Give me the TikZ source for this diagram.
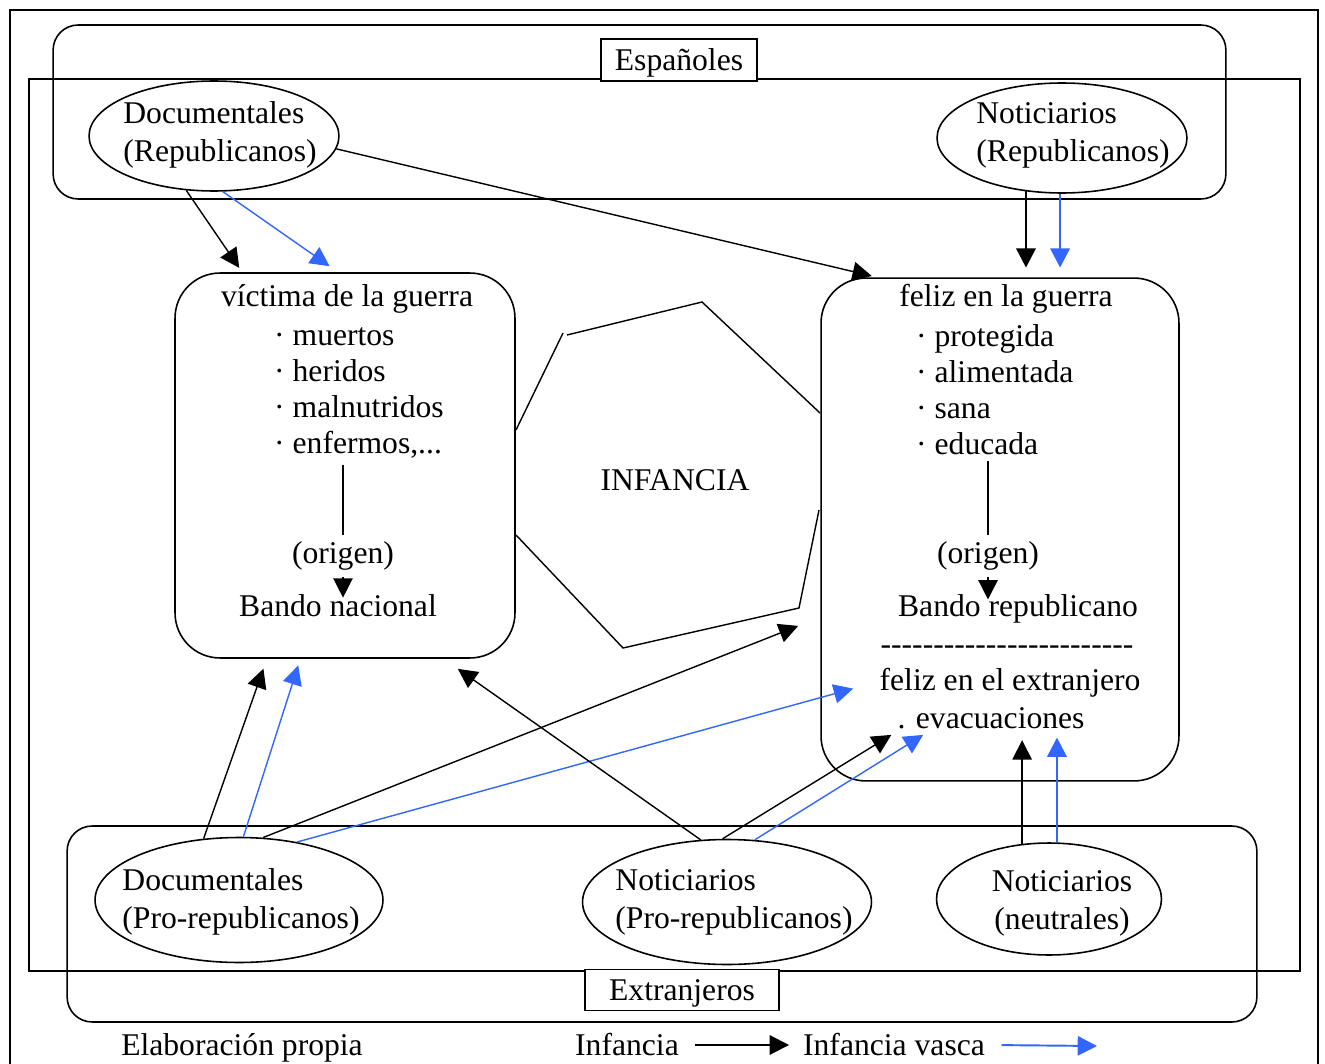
\documentclass[tikz,border=0pt]{standalone}
\usepackage{fontspec}
\setmainfont{Liberation Serif}
\usetikzlibrary{shapes.geometric,arrows.meta,calc}
\definecolor{vasca}{RGB}{51,102,255}
\newcommand\raya{\mbox{-}}
\tikzset{
  caja/.style={draw, line width=0.9pt, rounded corners=0.9cm},
  grupo/.style={draw, line width=0.9pt, rounded corners=0.5cm},
  medio/.style={draw, ellipse, line width=0.9pt, inner sep=0pt},
  rotulo/.style={draw, fill=white, line width=1pt, text depth=0pt},
  flecha/.style={-{Triangle[length=11pt,width=11pt]}, line width=0.8pt},
  gruesa/.style={flecha, line width=1.6pt},
  azul/.style={color=vasca},
  lista/.style={align=left, font=\fontsize{18}{20.5}\selectfont},
}
\begin{document}
\begin{tikzpicture}[x=0.02cm, y=-0.02cm, font=\fontsize{18}{21.6}\selectfont]
\useasboundingbox (0,0) rectangle (1325,1064);
% marcos
\draw[line width=1.1pt] (10,1064) |- (1318,10) -- (1318,1064);
\node[grupo, minimum width=23.46cm, minimum height=3.48cm] (espanoles) at (639.5,112) {};
\node[grupo, minimum width=23.8cm, minimum height=3.92cm] (extranjeros) at (662,924) {};
\draw[line width=1.1pt] (29,79) rectangle (1300,971);
\node[rotulo, minimum width=3.12cm, minimum height=0.84cm] (esplab) at (679,60) {Españoles};
\node[rotulo, minimum width=3.88cm, minimum height=0.82cm] (extlab) at (682,990) {Extranjeros};

% medios
\node[medio, minimum width=5cm, minimum height=2.2cm] (docrep) at (214,136) {};
\node[align=left] (docreptxt) at (220,135) {Documentales\\(Republicanos)};
\node[medio, minimum width=5cm, minimum height=2.2cm] (notrep) at (1062,138) {};
\node[align=left] (notreptxt) at (1073,135) {Noticiarios\\(Republicanos)};
\node[medio, minimum width=5.76cm, minimum height=2.5cm] (docpro) at (239,900) {};
\node[align=left] (docprotxt) at (241,902) {Documentales\\(Pro-republicanos)};
\node[medio, minimum width=5.78cm, minimum height=2.5cm] (notpro) at (727,902) {};
\node[align=left] (notprotxt) at (734,902) {Noticiarios\\(Pro-republicanos)};
\node[medio, minimum width=4.5cm, minimum height=2.24cm] (notneu) at (1049,899) {};
\node[align=center] (notneutxt) at (1062,903) {Noticiarios\\(neutrales)};

% imagenes de la infancia
\node[caja, minimum width=6.8cm, minimum height=7.7cm] (victima) at (345,465.5) {};
\node (vtit) at (347,299) {víctima de la guerra};
\node[lista, anchor=west] (vlist) at (268,393) {· muertos\\· heridos\\· malnutridos\\· enfermos,...};
\node (vorig) at (343,556) {(origen)};
\node (vband) at (338,606) {Bando nacional};
\draw[line width=0.8pt] (vlist.south -| vorig.north) -- (vorig.north);
\draw[flecha] (vorig.south) -- ($(vband.north -| vorig.south)+(0,9)$);

\node[caja, minimum width=7.16cm, minimum height=10.06cm] (feliz) at (1000,529.5) {};
\node (ftit) at (1006,299) {feliz en la guerra};
\node[lista, anchor=west] (flist) at (910,390) {· protegida\\· alimentada\\· sana\\· educada};
\node (forig) at (988,556) {(origen)};
\node (fband) at (1018,609) {Bando republicano};
\draw[line width=0.8pt] (flist.south -| forig.north) -- (forig.north);
\draw[flecha] (forig.south) -- ($(fband.north -| forig.south)+(0,11)$);
\node (fdash) at (1007,650) {\raya\raya\raya\raya\raya\raya\raya\raya\raya\raya\raya\raya\raya\raya\raya\raya\raya\raya\raya\raya\raya\raya\raya\raya};
\node (fext) at (1010,683) {feliz en el extranjero};
\node (fevac) at (991,718) {. evacuaciones};

\node (infan) at (675,480) {INFANCIA};
\draw[line width=0.8pt] (567,335) -- (702,302) -- (820,413);
\draw[line width=0.8pt] (819,510) -- (799,608) -- (623,648) -- (516,535);
\draw[line width=0.8pt] (516,430) -- (563,333);

% conexiones
\draw[flecha, shorten >=3pt] (docrep.-117) -- (victima.118);
\draw[flecha, azul, shorten >=6pt] (docrep.-81) -- (victima.92.3);
\draw[flecha, shorten >=3pt] (docrep.-6.4) -- (feliz.116.3);
\draw[gruesa, shorten >=5.5pt] (notrep.-124) -- (notrep.-124 |- feliz.north);
\draw[gruesa, azul, shorten >=5.5pt] (notrep.-92) -- (notrep.-92 |- feliz.north);
\draw[flecha, shorten >=6pt] (docpro.120) -- (victima.-112.4);
\draw[flecha, azul, shorten >=4pt] (docpro.86.4) -- (victima.-103.2);
\draw[flecha, shorten >=13.5pt] (docpro.69.6) -- (feliz.-154.2);
\draw[flecha, azul, shorten >=12pt] (docpro.45.5) -- (fext.west);
\draw[flecha, shorten >=10pt] (notpro.113.5) -- (victima.-63.5);
\draw[flecha] (notpro.94.6) -- (fevac.south west);
\draw[flecha, azul] (notpro.66.2) -- (fevac.-166);
\draw[flecha, shorten >=3pt] (notneu.116.6) -- (notneu.116.6 |- fevac.south);
\draw[flecha, azul, line width=1.4pt, shorten >=1.5pt] (notneu.82.9) -- (notneu.82.9 |- fevac.south);

% leyenda
\node (leg1) at (242,1048) {Elaboración propia};
\node (leg2) at (627,1045) {Infancia};
\node (leg3) at (894,1045) {Infancia vasca};
\coordinate (legfin) at (1097,1046);
\draw[flecha, line width=1.1pt, shorten <=5.5pt, shorten >=4.5pt] (leg2.east) -- (leg3.west);
\draw[flecha, azul, line width=1.1pt, shorten <=6pt] (leg3.east) -- (legfin);
\end{tikzpicture}
\end{document}
